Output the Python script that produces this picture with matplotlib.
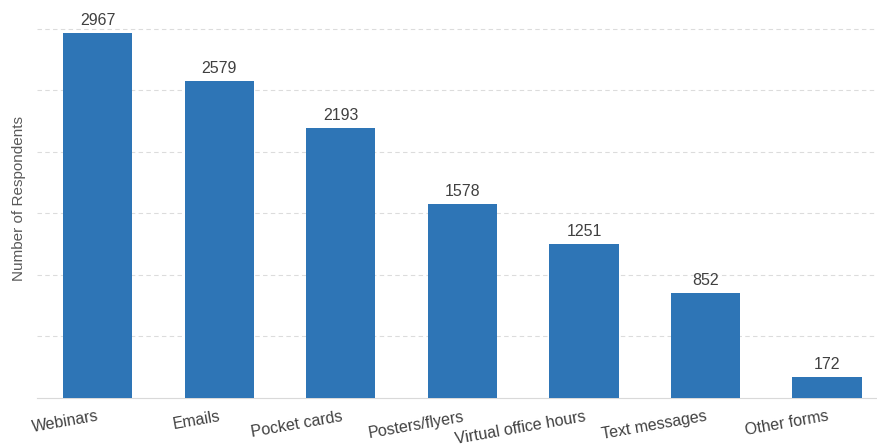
import matplotlib.pyplot as plt

# data
categories = ["Webinars", "Emails", "Pocket cards", "Posters/flyers",
              "Virtual office hours", "Text messages", "Other forms"]
respondents = [2967, 2579, 2193, 1578, 1251, 852, 172]

plt.rcParams['font.family'] = ['Liberation Sans', 'DejaVu Sans']

fig = plt.figure(figsize=(8.77, 4.45), dpi=100)
ax = fig.add_axes([0.042, 0.106, 0.958, 0.894])

x = range(len(categories))
bars = ax.bar(x, respondents, width=0.57, color="#2E75B6", zorder=3)

for b, v in zip(bars, respondents):
    ax.text(b.get_x() + b.get_width() / 2, v + 40, str(v),
            ha="center", va="bottom", fontsize=11.5, color="#404040")

ax.set_xlim(-0.5, 6.41)
ax.set_ylim(0, 3236)
ax.set_yticks(range(500, 3001, 500))
ax.yaxis.grid(True, linestyle=(0, (4, 3)), color="#dcdcdc", linewidth=0.8, zorder=0)
ax.tick_params(axis="y", length=0, labelleft=False)

ax.set_xticks(list(x))
ax.set_xticklabels(categories, rotation=10, ha="right", rotation_mode="anchor",
                   fontsize=11.5, color="#404040")
ax.tick_params(axis="x", length=0, pad=8)

for s in ["top", "right", "left"]:
    ax.spines[s].set_visible(False)
ax.spines["bottom"].set_color("#d9d9d9")

ax.set_ylabel("Number of Respondents", fontsize=11, color="#595959", labelpad=8)

fig.savefig("out.png", dpi=100)
